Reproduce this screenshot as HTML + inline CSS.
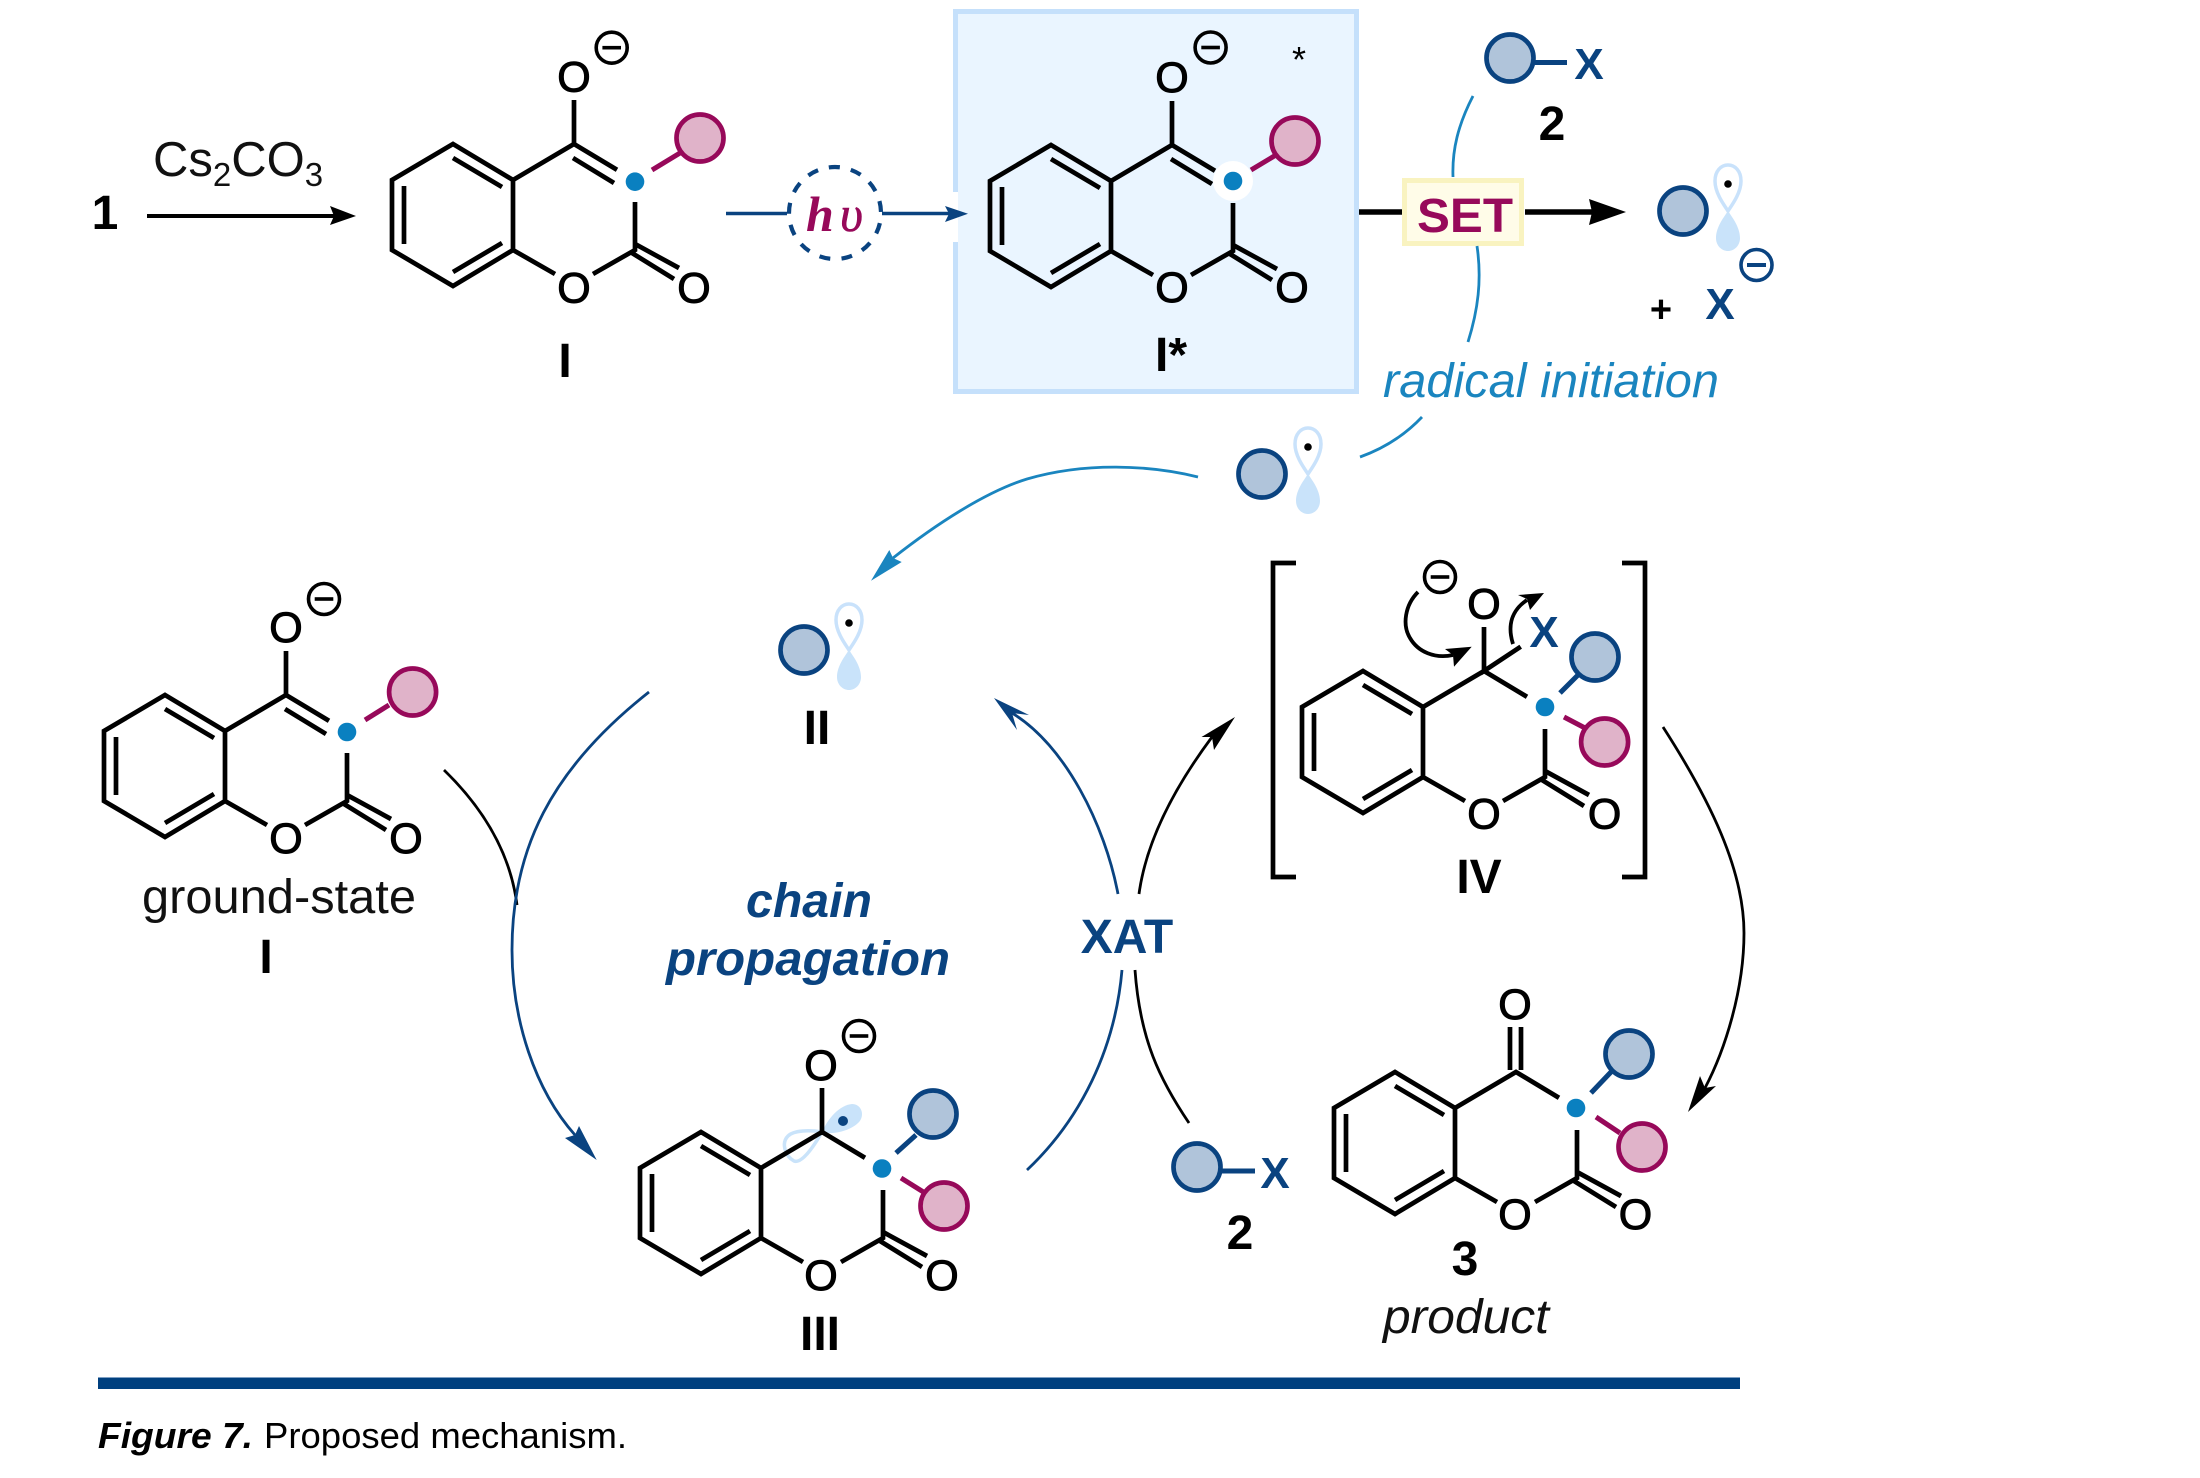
<!DOCTYPE html>
<html lang="en"><head><meta charset="utf-8"><title>Figure 7. Proposed mechanism.</title>
<style>
html,body{margin:0;padding:0;background:#fff}
svg{display:block;font-family:"Liberation Sans",Arial,sans-serif}
.o{font-size:43px;text-anchor:middle;fill:#000;stroke:#000;stroke-width:1}
.lb{font-size:48px;font-weight:700;text-anchor:middle;fill:#000}
.x{font-size:44px;font-weight:700;text-anchor:middle;fill:#0a4380}
.bk{fill:none;stroke:#000;stroke-width:4.7;stroke-linecap:butt;stroke-linejoin:miter}
.mn{fill:none;stroke:#000;stroke-width:3.6}
.p{fill:#e0b3c9;stroke:#97095a;stroke-width:4.7}
.b{fill:#b0c4da;stroke:#0a4380;stroke-width:4.7}
.pl{fill:none;stroke:#97095a;stroke-width:5}
.bl{fill:none;stroke:#0a4380;stroke-width:5}
.d{fill:#0a80c0}
.c1{fill:none;stroke:#1a85bf;stroke-width:2.8}
.c2{fill:none;stroke:#0a4380;stroke-width:2.8}
.c3{fill:none;stroke:#000;stroke-width:2.8}
</style></head><body>
<svg width="2200" height="1478" viewBox="0 0 2200 1478" xmlns="http://www.w3.org/2000/svg">
<defs>
<path id="core" class="bk" d="M-121 0L-61 36V106L-121 142L-182 106V36Z M-61 36L0 0L43 25.8 M-61 106L-19 130 M19 130L61 106V58 M61 100L105 124 M58 109L100 135 M-170 42V100 M-121 14L-72 43 M-121 128L-72 99"/>
<g id="orb">
<path d="M0 0C-4 -6 -13 -18 -13 -30C-13 -40 -7 -46 0 -46C7 -46 13 -40 13 -30C13 -18 4 -6 0 0Z" fill="#fff" stroke="#c9e2fb" stroke-width="3.5"/>
<path d="M0 0C-4 6 -12 16 -12 27C-12 35 -6 40 0 40C6 40 12 35 12 27C12 16 4 6 0 0Z" fill="#c9e3fa"/>
</g>
<g id="mn"><circle r="15.500" class="mn"/><rect x="-9.300" y="-1.800" width="18.600" height="3.600" fill="#000"/></g>
</defs>

<!-- Box -->
<rect x="955.500" y="11.500" width="401" height="380" fill="#eaf5ff" stroke="#c5e0fb" stroke-width="5"/>
<rect x="950" y="192" width="8" height="50" fill="#fff"/>

<!-- top row -->
<text x="105" y="229" class="lb">1</text>
<text x="153" y="176" font-size="49" fill="#111">Cs<tspan font-size="33" dy="10">2</tspan><tspan dy="-10">CO</tspan><tspan font-size="33" dy="10">3</tspan></text>
<path d="M147 216H336" stroke="#000" stroke-width="4" fill="none"/>
<polygon points="356,216 330,206 334,216 330,225" fill="#000"/>

<!-- Molecule I -->
<g transform="translate(574,144)">
<use href="#core"/>
<path class="bk" d="M0 -44V0 M-1 14L40 39"/>
<path class="pl" d="M78 26L106 9"/>
<circle cx="126" cy="-6" r="23.500" class="p"/>
<circle cx="61" cy="37.700" r="9.300" class="d"/>
<text x="0" y="-52.500" class="o">O</text>
<text x="0" y="158.500" class="o">O</text>
<text x="120" y="158.500" class="o">O</text>
<use href="#mn" x="37.700" y="-96.300"/>
</g>
<text x="565" y="377" class="lb">I</text>

<!-- hv -->
<path d="M726 213.500H787M882 213.500H950" stroke="#0a4380" stroke-width="3.400" fill="none"/>
<polygon points="968,213.700 945,206 949,213.700 945,222" fill="#0a4380"/>
<circle cx="835" cy="213" r="46" fill="none" stroke="#0a4380" stroke-width="4.200" stroke-dasharray="11 11.230" transform="rotate(-15 835 213)"/>
<text x="806" y="231" font-family="Liberation Serif,serif" font-size="50" font-weight="700" font-style="italic" fill="#97095a">h</text>
<text x="840" y="231" font-family="Liberation Serif,serif" font-size="50" font-style="italic" fill="#97095a" stroke="#97095a" stroke-width=".6">υ</text>

<!-- Molecule I* -->
<g transform="translate(1172,145)">
<use href="#core"/>
<path class="bk" d="M0 -44V0 M-1 14L40 39"/>
<path class="pl" d="M79 25L104 10"/>
<circle cx="123" cy="-4" r="23.500" class="p"/>
<circle cx="61" cy="36" r="20" fill="#fff"/>
<circle cx="61" cy="36" r="9.300" class="d"/>
<text x="0" y="-53" class="o">O</text>
<text x="0" y="157" class="o">O</text>
<text x="120" y="157" class="o">O</text>
<use href="#mn" x="38.600" y="-97.500"/>
</g>
<text x="1299" y="72" font-size="36" text-anchor="middle" fill="#000">*</text>
<text x="1171" y="371" class="lb">I*</text>

<!-- SET -->
<path d="M1359 212H1402M1525 212H1592" stroke="#000" stroke-width="5.500" fill="none"/>
<polygon points="1626,212 1589,199 1592,212 1589,225" fill="#000"/>
<rect x="1404.500" y="180.500" width="117" height="63" fill="#fffce8" stroke="#f9f3c0" stroke-width="5"/>
<text x="1465" y="232" font-size="48" font-weight="700" text-anchor="middle" fill="#97095a" textLength="96" lengthAdjust="spacingAndGlyphs">SET</text>

<!-- arcs radical initiation -->
<path class="c1" d="M1473 96C1458 125 1452 150 1453 177"/>
<path class="c1" d="M1477 246C1482 280 1478 310 1468 342"/>
<path class="c1" d="M1422 417C1405 435 1385 448 1360 457"/>
<path class="c1" d="M1198 477C1150 465 1085 462 1027 479C985 492 935 525 893 558"/>
<polygon points="871,580.700 889.300,550 893,558 901.700,562" fill="#1a85bf"/>
<text x="1383" y="397" font-size="48" font-style="italic" fill="#1a85bf" textLength="336" lengthAdjust="spacingAndGlyphs">radical initiation</text>

<!-- 2 top -->
<circle cx="1510" cy="58" r="23.500" class="b"/>
<path class="bl" d="M1535 62.500H1567"/>
<text x="1589" y="79" class="x">X</text>
<text x="1552" y="140" class="lb">2</text>

<!-- Radical top right -->
<circle cx="1683" cy="211" r="23.500" class="b"/>
<use href="#orb" x="1728" y="211"/>
<circle cx="1728" cy="184" r="3.800" fill="#000"/>
<text x="1661" y="322" font-size="38" font-weight="700" text-anchor="middle" fill="#000">+</text>
<text x="1720" y="319" class="x">X</text>
<circle cx="1756.500" cy="265" r="15.500" fill="none" stroke="#0a4380" stroke-width="3.600"/>
<rect x="1747" y="263" width="19" height="4" fill="#0a4380"/>

<!-- Radical mid -->
<circle cx="1262" cy="474" r="23.500" class="b"/>
<use href="#orb" x="1308" y="474"/>
<circle cx="1308" cy="447" r="3.800" fill="#000"/>

<!-- II -->
<circle cx="804" cy="650" r="23.500" class="b"/>
<use href="#orb" x="849" y="650"/>
<circle cx="849" cy="623" r="3.800" fill="#000"/>
<text x="817" y="744" class="lb">II</text>

<!-- Ground-state I -->
<g transform="translate(286,695)">
<use href="#core"/>
<path class="bk" d="M0 -44V0 M-1 14L40 39"/>
<path class="pl" d="M79 25L103 10"/>
<circle cx="126.600" cy="-3" r="23.500" class="p"/>
<circle cx="61" cy="37" r="9.300" class="d"/>
<text x="0" y="-53" class="o">O</text>
<text x="0" y="158" class="o">O</text>
<text x="120" y="158" class="o">O</text>
<use href="#mn" x="38" y="-96"/>
</g>
<text x="279" y="913" font-size="48" text-anchor="middle" fill="#111" textLength="274" lengthAdjust="spacingAndGlyphs">ground-state</text>
<text x="266" y="973" class="lb">I</text>

<!-- curves -->
<path class="c3" d="M444 770C480 805 510 850 517 905"/>
<path class="c2" d="M649 692C550 770 512 850 512 950C512 1020 535 1090 575 1135"/>
<polygon points="596.700,1160 565,1138 575,1135 579,1126" fill="#0a4380"/>

<text x="809" y="917" font-size="48" font-weight="700" font-style="italic" text-anchor="middle" fill="#0a4380" textLength="126" lengthAdjust="spacingAndGlyphs">chain</text>
<text x="808" y="975" font-size="48" font-weight="700" font-style="italic" text-anchor="middle" fill="#0a4380" textLength="284" lengthAdjust="spacingAndGlyphs">propagation</text>

<!-- XAT -->
<text x="1127" y="953" font-size="48" font-weight="700" text-anchor="middle" fill="#0a4380">XAT</text>
<path class="c2" d="M1118 894C1105 825 1065 745 1012 713"/>
<polygon points="994,698 1029,715 1012,713 1017,730" fill="#0a4380"/>
<path class="c3" d="M1139 894C1147 835 1180 780 1212 737"/>
<polygon points="1235,717 1201.500,737 1212,737 1214,750" fill="#000"/>
<path class="c2" d="M1122 970C1115 1050 1080 1120 1027 1170"/>
<path class="c3" d="M1135 970C1140 1040 1160 1080 1189 1123"/>
<path class="c3" d="M1663 727C1710 800 1744 870 1744 933C1744 990 1725 1050 1705 1088"/>
<polygon points="1688,1112 1700,1076 1705,1088 1716,1086" fill="#000"/>

<!-- Brackets -->
<path class="bk" d="M1296 563H1273V877H1296 M1622 563H1645V877H1622" stroke-width="5"/>

<!-- IV -->
<g transform="translate(1484,671)">
<use href="#core"/>
<path class="bk" d="M0 -44V0L36.700 -24.300"/>
<circle cx="61" cy="36" r="9.300" class="d"/>
<path class="bl" d="M76 22L94 4"/>
<circle cx="111" cy="-14" r="23.500" class="b"/>
<path class="pl" d="M80 46L101 57"/>
<circle cx="120.600" cy="71" r="23.500" class="p"/>
<text x="0" y="-52.500" class="o">O</text>
<text x="0" y="157.500" class="o">O</text>
<text x="120.600" y="157.500" class="o">O</text>
<use href="#mn" x="-44" y="-94"/>
</g>
<text x="1544" y="647" class="x">X</text>
<path d="M1418 592C1405 605 1402 625 1410 638C1418 652 1435 659 1453 655" fill="none" stroke="#000" stroke-width="3.800"/>
<polygon points="1471.700,646.700 1445,649 1453,655 1454,666.700" fill="#000"/>
<path d="M1513 644C1507 625 1512 610 1527 600" fill="none" stroke="#000" stroke-width="3.800"/>
<polygon points="1544,593 1518,595 1527,599 1530,610" fill="#000"/>
<text x="1479" y="893" class="lb">IV</text>

<!-- III -->
<g transform="translate(822,1132)">
<path d="M0 0C6 -14 18 -27 30 -28C38 -28 42 -20 39 -13C35 -4 14 4 0 0Z" fill="#c9e3fa"/>
<path d="M0 0C-12 -2 -28 -2 -34 4C-41 11 -37 24 -28 29C-20 32 -8 14 0 0Z" fill="#fff" stroke="#c9e3fa" stroke-width="3.500"/>
<use href="#core"/>
<path class="bk" d="M0 -44V0"/>
<circle cx="21" cy="-11" r="5" fill="#0a4380"/>
<circle cx="60" cy="36.500" r="9.300" class="d"/>
<path class="bl" d="M74 21L94 3"/>
<circle cx="111" cy="-18" r="23.500" class="b"/>
<path class="pl" d="M79 46L103 61"/>
<circle cx="122" cy="74" r="23.500" class="p"/>
<text x="-1" y="-52" class="o">O</text>
<text x="-1" y="158" class="o">O</text>
<text x="120" y="158" class="o">O</text>
<use href="#mn" x="37" y="-96"/>
</g>
<text x="820" y="1350" class="lb">III</text>

<!-- 2 bottom -->
<circle cx="1197" cy="1167" r="23.500" class="b"/>
<path class="bl" d="M1222 1171H1255"/>
<text x="1275" y="1188" class="x">X</text>
<text x="1240" y="1249" class="lb">2</text>

<!-- 3 -->
<g transform="translate(1516,1072)">
<use href="#core"/>
<path class="bk" d="M-6 -45V-2 M5 -45V-2"/>
<circle cx="60" cy="36" r="9.300" class="d"/>
<path class="bl" d="M75 21L95 0"/>
<circle cx="113" cy="-18" r="23.500" class="b"/>
<path class="pl" d="M80 45L104 61"/>
<circle cx="126" cy="75" r="23.500" class="p"/>
<text x="-1" y="-53" class="o">O</text>
<text x="-1" y="157" class="o">O</text>
<text x="119.500" y="157" class="o">O</text>
</g>
<text x="1465" y="1275" class="lb">3</text>
<text x="1383" y="1333" font-size="48" font-style="italic" fill="#111" textLength="166" lengthAdjust="spacingAndGlyphs">product</text>

<!-- Bar and caption -->
<rect x="98" y="1377" width="1642" height="12" fill="#00407f"/>
<rect x="98" y="1377" width="1642" height="1" fill="#7fa0c4"/>
<text x="98" y="1448" font-size="36.400" font-weight="700" font-style="italic" fill="#000" textLength="155" lengthAdjust="spacingAndGlyphs">Figure 7.</text>
<text x="264" y="1448" font-size="36.400" fill="#000" textLength="363" lengthAdjust="spacingAndGlyphs">Proposed mechanism.</text>
</svg>
</body></html>
